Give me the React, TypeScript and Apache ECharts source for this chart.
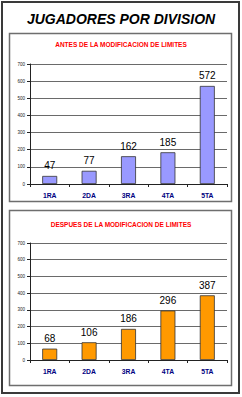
import React, { useEffect, useRef } from "react";
import * as echarts from "echarts";

const categories = ["1RA", "2DA", "3RA", "4TA", "5TA"];
const antesValues = [47, 77, 162, 185, 572];
const despuesValues = [68, 106, 186, 296, 387];
const yTicks = [0, 100, 200, 300, 400, 500, 600, 700];

const title = "JUGADORES POR DIVISION";
const subtitleAntes = "ANTES DE LA MODIFICACION DE LIMITES";
const subtitleDespues = "DESPUES DE LA MODIFICACION DE LIMITES";

export default function App() {
  const ref = useRef<HTMLDivElement>(null);
  useEffect(() => {
    if (!ref.current) return;
    const chart = echarts.init(ref.current, null, { renderer: "svg" });
    const font = "Liberation Sans, Arial, sans-serif";
    const xAxis = (gi: number) => ({
      type: "category",
      gridIndex: gi,
      data: categories,
      axisLine: { show: true, lineStyle: { color: "#222", width: 1 } },
      axisTick: { show: true, alignWithLabel: false, length: 3, lineStyle: { color: "#222" } },
      axisLabel: { color: "#000080", fontWeight: "bold", fontSize: 6.8, fontFamily: font, margin: 8 },
    });
    const yAxis = (gi: number) => ({
      type: "value",
      gridIndex: gi,
      min: yTicks[0],
      max: yTicks[yTicks.length - 1],
      interval: 100,
      axisLine: { show: true, lineStyle: { color: "#222", width: 1 } },
      axisTick: { show: true, length: 3, lineStyle: { color: "#222" } },
      axisLabel: { color: "#222", fontSize: 4.5, fontFamily: font, margin: 5 },
      splitLine: { show: true, lineStyle: { color: "#6a6a6a", width: 1 } },
    });
    const series = (gi: number, data: number[], color: string) => ({
      type: "bar",
      xAxisIndex: gi,
      yAxisIndex: gi,
      data,
      barWidth: "38%",
      itemStyle: { color, borderColor: "#333", borderWidth: 0.8 },
      label: {
        show: true,
        position: "top",
        distance: 5,
        color: "#000",
        fontSize: 10,
        fontFamily: font,
      },
    });
    chart.setOption({
      animation: false,
      backgroundColor: "#fff",
      grid: [
        { left: 30, right: 15, top: 64, bottom: 213 },
        { left: 30, right: 15, top: 243, bottom: 37 },
      ],
      xAxis: [xAxis(0), xAxis(1)],
      yAxis: [yAxis(0), yAxis(1)],
      series: [series(0, antesValues, "#9999FF"), series(1, despuesValues, "#FF9900")],
      graphic: [
        {
          type: "rect",
          shape: { x: 2, y: 2, width: 237, height: 391 },
          style: { fill: "none", stroke: "#3a3a3a", lineWidth: 2 },
          silent: true,
        },
        {
          type: "rect",
          shape: { x: 9.5, y: 33.5, width: 222, height: 168 },
          style: { fill: "none", stroke: "#6e6e6e", lineWidth: 1.5 },
          silent: true,
        },
        {
          type: "rect",
          shape: { x: 9.5, y: 210.5, width: 222, height: 175 },
          style: { fill: "none", stroke: "#6e6e6e", lineWidth: 1.5 },
          silent: true,
        },
        {
          type: "text",
          x: 121,
          y: 19,
          style: {
            text: title,
            font: `italic bold 14px ${font}`,
            fill: "#000",
            align: "center",
            verticalAlign: "middle",
          },
        },
        {
          type: "text",
          x: 121,
          y: 44,
          style: {
            text: subtitleAntes,
            font: `bold 6.5px ${font}`,
            fill: "#FF0000",
            align: "center",
            verticalAlign: "middle",
          },
        },
        {
          type: "text",
          x: 121,
          y: 224,
          style: {
            text: subtitleDespues,
            font: `bold 6.5px ${font}`,
            fill: "#FF0000",
            align: "center",
            verticalAlign: "middle",
          },
        },
      ],
    });
    return () => chart.dispose();
  }, []);
  return (
    <div
      ref={ref}
      style={{ position: "absolute", left: 0, top: 0, width: 242, height: 397 }}
    />
  );
}
